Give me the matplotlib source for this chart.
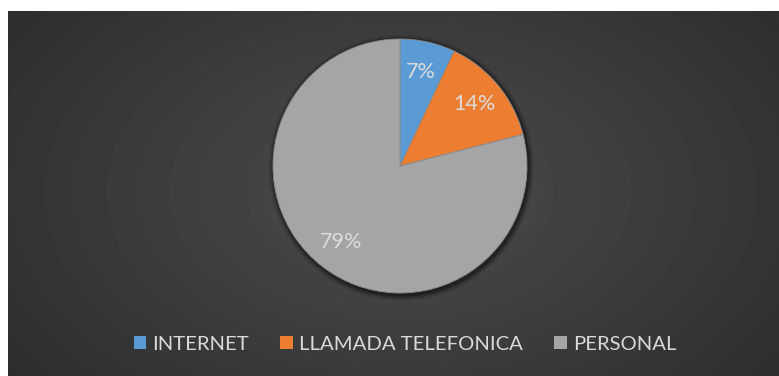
import matplotlib.pyplot as plt
import matplotlib.patches as mpatches
import numpy as np

categories = ["INTERNET", "LLAMADA TELEFONICA", "PERSONAL"]
shares = [7, 14, 79]
colors = ["#5B9BD5", "#ED7D31", "#A5A5A5"]

plt.rcParams["font.family"] = ["Lato", "DejaVu Sans"]

W, H = 779, 376
fig = plt.figure(figsize=(W / 100, H / 100), dpi=100)
fig.patch.set_facecolor("white")

# dark panel with a soft radial gradient
bg = fig.add_axes([8 / W, 0, (W - 8) / W, (H - 11) / H])
yy, xx = np.mgrid[0:365, 0:771]
d = np.sqrt(((xx - 392) / 520.0) ** 2 + ((yy - 180) / 330.0) ** 2)
shade = np.clip(0.30 - 0.13 * d, 0.16, 0.30)
bg.imshow(shade, cmap="gray", vmin=0, vmax=1, aspect="auto",
          interpolation="bilinear")
bg.set_axis_off()

# pie, one data unit = r pixels
cx, cy, r = 400, 166, 127
lim = 1.08
half = lim * r
ax = fig.add_axes([(cx - half) / W, (H - cy - half) / H, 2 * half / W, 2 * half / H])
ax.set_axis_off()
ax.set_facecolor("none")

# soft shadow under the pie
for k, a in zip([1.045, 1.03, 1.015], [0.10, 0.18, 0.30]):
    ax.add_patch(mpatches.Circle((0.01, -0.015), k, color="black", alpha=a,
                                 lw=0))

wedges, texts, autotexts = ax.pie(
    shares, colors=colors, startangle=90, counterclock=False,
    autopct="%d%%", pctdistance=0.76, radius=1.0,
    wedgeprops=dict(edgecolor="#8a8a8a", linewidth=0.6),
    textprops=dict(color="#DCDCDC", fontsize=15.5))
ax.set_xlim(-lim, lim)
ax.set_ylim(-lim, lim)
ax.set_aspect("auto")

handles = [mpatches.Patch(facecolor=c, edgecolor="none") for c in colors]
leg = fig.legend(handles, categories, loc="center",
                 bbox_to_anchor=(405 / W, 1 - 344 / H), ncol=3, frameon=False,
                 fontsize=14.6, handlelength=0.62, handleheight=0.62,
                 handletextpad=0.3, columnspacing=1.55)
for t in leg.get_texts():
    t.set_color("#D9D9D9")

fig.savefig("out.png", dpi=100)
